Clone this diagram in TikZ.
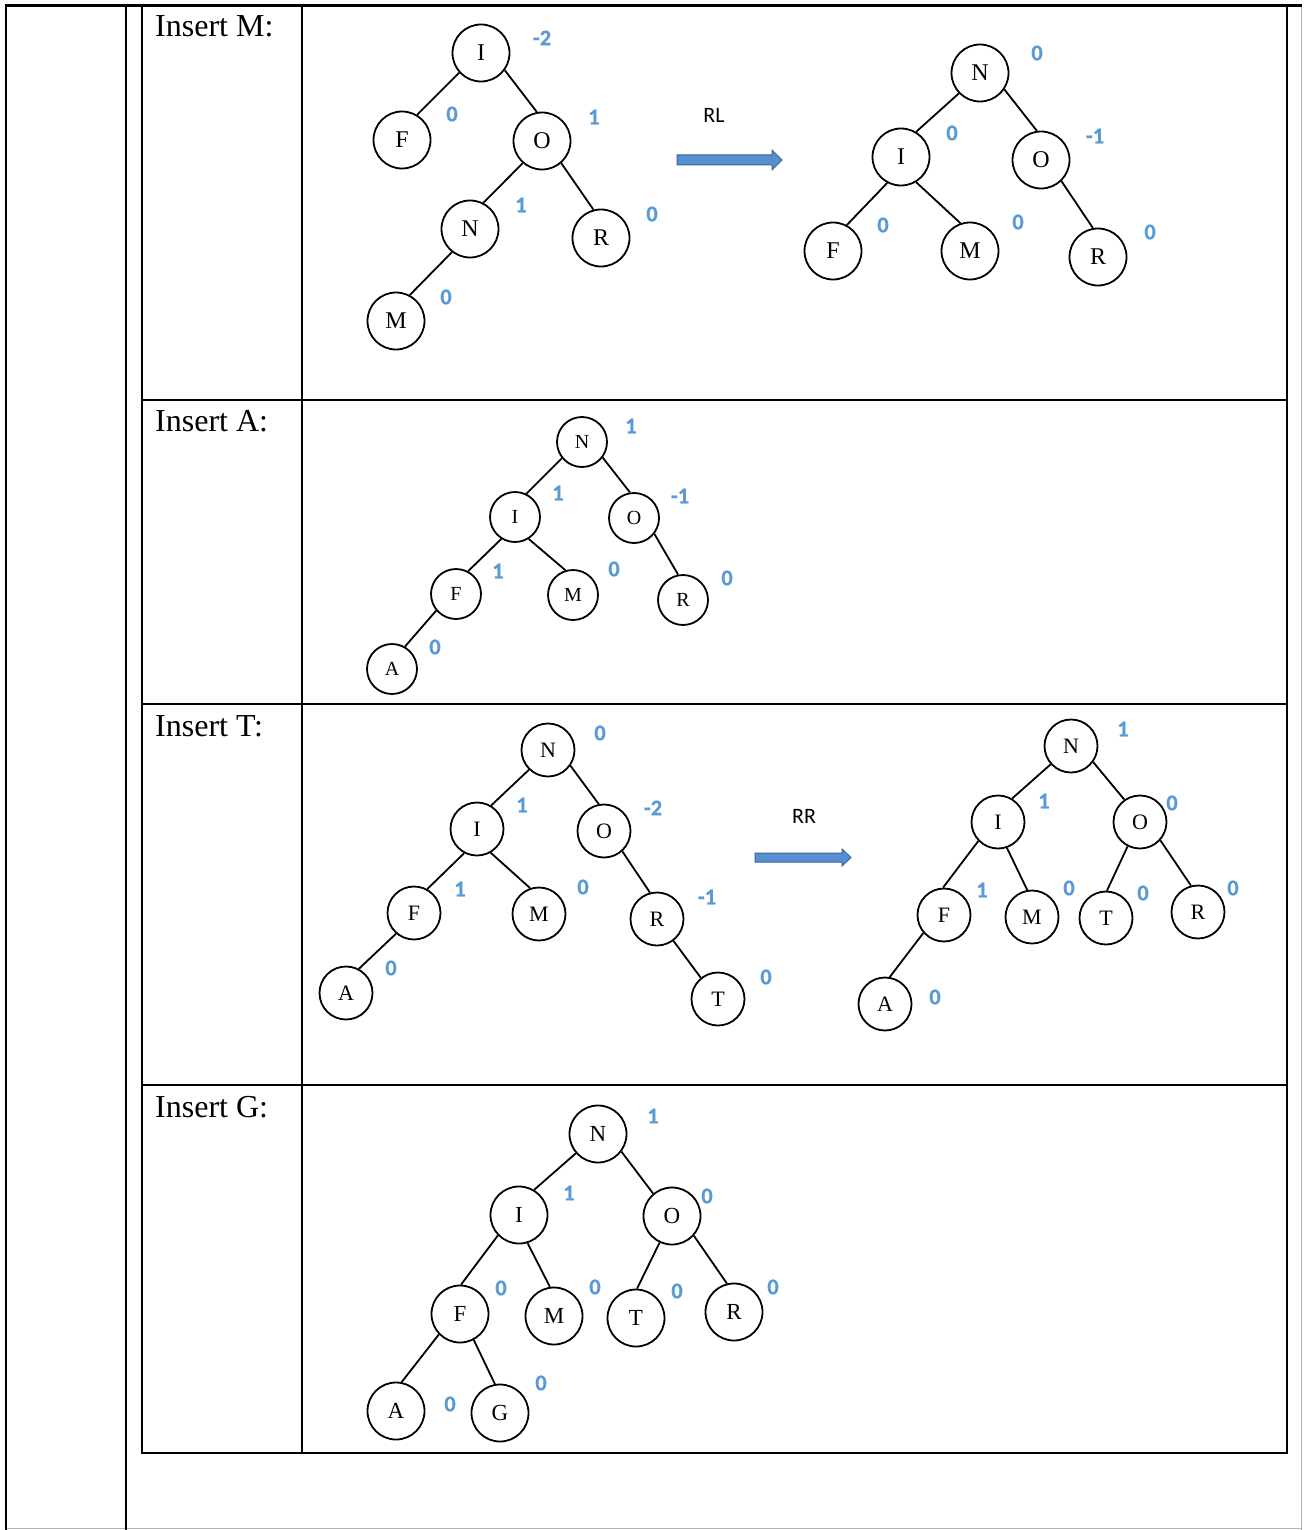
\documentclass[tikz,border=0pt]{standalone}
\usepackage{fontspec}
\setmainfont{Liberation Serif}
\newfontfamily\calfont{Carlito}
\newfontfamily\calbold{Carlito}[UprightFont={* Bold},FakeBold=0.6]
\definecolor{balblue}{RGB}{91,155,213}
\definecolor{arrfill}{RGB}{85,143,210}
\definecolor{arredge}{RGB}{60,100,150}
\begin{document}
\begin{tikzpicture}[x=1pt,y=-1pt,
  tbl/.style={line width=2.4pt,black},
  thin/.style={line width=0.9pt,gray!60},
  treenode/.style={circle,draw,line width=1.8pt,inner sep=0pt},
  nA/.style={treenode,minimum size=57pt,font=\fontsize{24}{24}\selectfont},
  nB/.style={treenode,minimum size=50pt,font=\fontsize{20}{20}\selectfont},
  nC/.style={treenode,minimum size=53pt,font=\fontsize{22}{22}\selectfont},
  nD/.style={treenode,minimum size=57pt,font=\fontsize{23}{23}\selectfont},
  bal/.style={text=balblue,font=\calbold\fontsize{22.5}{22.5}\selectfont,inner sep=0pt},
  rot/.style={font=\calfont\fontsize{22}{22}\selectfont,inner sep=0pt},
  title/.style={anchor=base west,inner sep=0pt,font=\fontsize{32}{32}\selectfont},
  edge/.style={line width=1.8pt},
  blockarrow/.style={fill=arrfill,draw=arredge,line width=1pt,line join=miter}]
\useasboundingbox (0,0) rectangle (1303,1530);
% outer frame
\draw[thin] (6,1528) -- (1301,1528);
\draw[thin] (1301,5) -- (1301,1530);
\draw[tbl] (5,5.5) -- (1302,5.5);
\draw[tbl] (6,5) -- (6,1530);
\draw[tbl] (126,5) -- (126,1530);
% table
\draw[tbl] (142,5) -- (142,1453) -- (1287,1453) -- (1287,5);
\draw[tbl] (302,5) -- (302,1453);
\draw[tbl] (142,400) -- (1287,400);
\draw[tbl] (142,704) -- (1287,704);
\draw[tbl] (142,1085) -- (1287,1085);
% titles
\node[title] (tM) at (155,37) {Insert M:};
\node[title] (tA) at (155,431) {Insert A:};
\node[title] (tT) at (155,736) {Insert T:};
\node[title] (tG) at (155,1117) {Insert G:};

% ===== Section 1 left =====
\node[nA] (a1I) at (481,53) {I};
\node[nA] (a1F) at (402,140) {F};
\node[nA] (a1O) at (542,141) {O};
\node[nA] (a1N) at (470,229) {N};
\node[nA] (a1R) at (601,238) {R};
\node[nA] (a1M) at (396,321) {M};
\draw[edge] (a1I.222) -- (a1F.59);
\draw[edge] (a1I.324) -- (a1O.100);
\draw[edge] (a1O.229) -- (a1N.63);
\draw[edge] (a1O.311) -- (a1R.105);
\draw[edge] (a1N.232) -- (a1M.62);
\node[bal] (b1a) at (542,38) {-2};
\node[bal] (b1b) at (452,114) {0};
\node[bal] (b1c) at (594,117) {1};
\node[bal] (b1d) at (521,205) {1};
\node[bal] (b1e) at (652,214) {0};
\node[bal] (b1f) at (446,297) {0};
% RL arrow
\node[rot] (rl) at (714,115) {RL};
\draw[blockarrow] (677,155) -- (772,155) -- (772,150) -- (782,160) -- (772,170) -- (772,165) -- (677,165) -- cycle;
% ===== Section 1 right =====
\node[nA] (a2N) at (980,73) {N};
\node[nA] (a2I) at (901,157) {I};
\node[nA] (a2O) at (1041,160) {O};
\node[nA] (a2F) at (833,251) {F};
\node[nA] (a2M) at (970,251) {M};
\node[nA] (a2R) at (1098,257) {R};
\draw[edge] (a2N.224) -- (a2I.59);
\draw[edge] (a2N.326) -- (a2O.98);
\draw[edge] (a2I.242) -- (a2F.62);
\draw[edge] (a2I.301) -- (a2M.109);
\draw[edge] (a2O.314) -- (a2R.100);
\node[bal] (b2a) at (1037,53) {0};
\node[bal] (b2b) at (952,133) {0};
\node[bal] (b2c) at (1095,136) {-1};
\node[bal] (b2d) at (883,225) {0};
\node[bal] (b2e) at (1018,222) {0};
\node[bal] (b2f) at (1150,232) {0};

% ===== Section 2 =====
\node[nB] (cN) at (582,442) {N};
\node[nB] (cI) at (515,517) {I};
\node[nB] (cO) at (634,518) {O};
\node[nB] (cF) at (456,594) {F};
\node[nB] (cM) at (573,595) {M};
\node[nB] (cR) at (683,600) {R};
\node[nB] (cA) at (392,669) {A};
\draw[edge] (cN.219) -- (cI.64);
\draw[edge] (cN.323) -- (cO.99);
\draw[edge] (cI.238) -- (cF.62);
\draw[edge] (cI.302) -- (cM.107);
\draw[edge] (cO.322) -- (cR.101);
\draw[edge] (cF.220) -- (cA.60);
\node[bal] (b3a) at (631,426) {1};
\node[bal] (b3b) at (558,493) {1};
\node[bal] (b3c) at (680,496) {-1};
\node[bal] (b3d) at (498,571) {1};
\node[bal] (b3e) at (614,569) {0};
\node[bal] (b3f) at (727,578) {0};
\node[bal] (b3g) at (435,647) {0};

% ===== Section 3 left =====
\node[nC] (dN) at (548,750) {N};
\node[nC] (dI) at (477,829) {I};
\node[nC] (dO) at (604,831) {O};
\node[nC] (dF) at (414,913) {F};
\node[nC] (dM) at (539,914) {M};
\node[nC] (dR) at (657,919) {R};
\node[nC] (dA) at (346,993) {A};
\node[nC] (dT) at (718,999) {T};
\draw[edge] (dN.226) -- (dI.59);
\draw[edge] (dN.325) -- (dO.101);
\draw[edge] (dI.242) -- (dF.61);
\draw[edge] (dI.300) -- (dM.109);
\draw[edge] (dO.312) -- (dR.105);
\draw[edge] (dF.229) -- (dA.62);
\draw[edge] (dR.307) -- (dT.129);
\node[bal] (b4a) at (600,733) {0};
\node[bal] (b4b) at (522,805) {1};
\node[bal] (b4c) at (653,808) {-2};
\node[bal] (b4d) at (460,889) {1};
\node[bal] (b4e) at (583,887) {0};
\node[bal] (b4f) at (707,897) {-1};
\node[bal] (b4g) at (391,968) {0};
\node[bal] (b4h) at (766,977) {0};
% RR arrow
\node[rot] (rr) at (804,816) {RR};
\draw[blockarrow] (755,853) -- (842,853) -- (842,849) -- (851,857.5) -- (842,866) -- (842,862) -- (755,862) -- cycle;
% ===== Section 3 right =====
\node[nC] (eN) at (1071,746) {N};
\node[nC] (eI) at (998,822) {I};
\node[nC] (eO) at (1140,822) {O};
\node[nC] (eF) at (944,915) {F};
\node[nC] (eM) at (1032,917) {M};
\node[nC] (eT) at (1106,918) {T};
\node[nC] (eR) at (1198,912) {R};
\node[nC] (eA) at (885,1004) {A};
\draw[edge] (eN.222) -- (eI.59);
\draw[edge] (eN.324) -- (eO.125);
\draw[edge] (eI.224) -- (eF.92);
\draw[edge] (eI.289) -- (eM.100);
\draw[edge] (eO.243) -- (eT.88);
\draw[edge] (eO.318) -- (eR.105);
\draw[edge] (eF.221) -- (eA.80);
\node[bal] (b5a) at (1123,729) {1};
\node[bal] (b5b) at (1044,801) {1};
\node[bal] (b5c) at (1172,803) {0};
\node[bal] (b5d) at (982,890) {1};
\node[bal] (b5e) at (1069,888) {0};
\node[bal] (b5f) at (1143,893) {0};
\node[bal] (b5g) at (1233,888) {0};
\node[bal] (b5h) at (935,997) {0};

% ===== Section 4 =====
\node[nD] (fN) at (598,1134) {N};
\node[nD] (fI) at (519,1215) {I};
\node[nD] (fO) at (672,1216) {O};
\node[nD] (fF) at (460,1314) {F};
\node[nD] (fM) at (554,1316) {M};
\node[nD] (fT) at (636,1318) {T};
\node[nD] (fR) at (734,1312) {R};
\node[nD] (fA) at (396,1411) {A};
\node[nD] (fG) at (500,1413) {G};
\draw[edge] (fN.221) -- (fI.59);
\draw[edge] (fN.323) -- (fO.130);
\draw[edge] (fI.224) -- (fF.88);
\draw[edge] (fI.287) -- (fM.98);
\draw[edge] (fO.245) -- (fT.88);
\draw[edge] (fO.318) -- (fR.104);
\draw[edge] (fF.224) -- (fA.79);
\draw[edge] (fF.298) -- (fG.100);
\node[bal] (b6a) at (653,1116) {1};
\node[bal] (b6b) at (569,1193) {1};
\node[bal] (b6c) at (707,1196) {0};
\node[bal] (b6d) at (501,1288) {0};
\node[bal] (b6e) at (595,1287) {0};
\node[bal] (b6f) at (677,1291) {0};
\node[bal] (b6g) at (773,1287) {0};
\node[bal] (b6h) at (450,1404) {0};
\node[bal] (b6i) at (541,1383) {0};
\end{tikzpicture}
\end{document}
